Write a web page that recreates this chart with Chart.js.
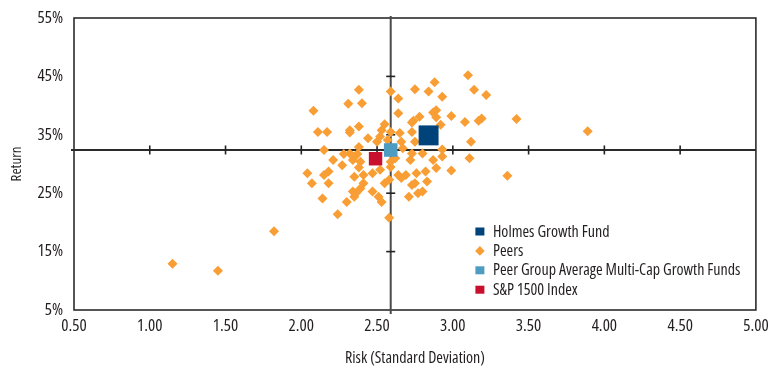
<!DOCTYPE html>
<html>
<head>
<meta charset="utf-8">
<script src="https://cdn.jsdelivr.net/npm/chart.js@4/dist/chart.umd.min.js"></script>
<style>
  html, body { margin: 0; padding: 0; background: #ffffff; }
  #wrap { width: 770px; height: 369px; }
</style>
</head>
<body>
<div id="wrap"><canvas id="chart" width="770" height="369"></canvas></div>
<script>
// Series names, in legend order
const seriesNames = ['Holmes Growth Fund', 'Peers', 'Peer Group Average Multi-Cap Growth Funds', 'S&P 1500 Index'];

// Single-point series: risk (std. dev.) and return (%)
const fundRisk = [2.84];
const fundReturn = [34.9];
const peerAvgRisk = [2.59];
const peerAvgReturn = [32.4];
const indexRisk = [2.49];
const indexReturn = [30.9];

// Peer funds: risk (std. dev.) and return (%)
const peerRisk = [
  2.08, 2.31, 2.40, 2.38, 2.59, 2.64, 2.75, 2.84, 2.88, 2.93, 3.10, 3.14, 3.22,
  2.64, 2.78, 2.73, 2.74, 2.87, 2.89, 2.89, 2.92, 2.99, 3.08, 3.19, 3.17, 3.42,
  2.11, 2.17, 2.32, 2.32, 2.38, 2.55, 2.53, 2.59, 2.65, 2.73, 2.75, 2.44, 2.52,
  3.12, 2.50, 2.57, 2.66,
  2.15, 2.28, 2.38, 2.37, 2.21, 2.27, 2.34, 2.38, 2.67, 2.73, 2.80, 2.72, 2.87,
  2.93, 2.93, 3.11, 2.99, 3.36, 2.04, 2.15, 2.18, 2.35, 2.32, 2.59, 2.59, 2.35,
  2.41, 2.47, 2.52, 2.64, 2.66, 2.69, 2.76, 2.82, 2.39, 2.89, 2.62,
  2.18, 2.55, 2.58, 2.73, 2.75, 2.83, 2.34, 2.39, 2.47, 2.51, 2.53, 2.71, 2.77,
  2.30, 2.35, 2.14, 2.07, 2.24, 2.58, 1.82, 1.15, 1.45, 2.41, 2.80, 2.36, 3.89
];
const peerReturn = [
  39.1, 40.3, 40.4, 42.7, 42.4, 41.2, 42.8, 42.4, 44.0, 41.5, 45.2, 42.7, 41.8,
  38.7, 38.1, 37.1, 37.4, 38.8, 39.2, 38.0, 36.7, 38.2, 37.2, 37.8, 37.4, 37.7,
  35.5, 35.5, 35.8, 35.4, 36.4, 36.8, 35.8, 35.5, 35.3, 35.5, 33.8, 34.4, 34.7,
  33.8, 33.8, 34.1, 33.8,
  32.4, 31.7, 32.9, 31.7, 30.7, 29.8, 30.7, 29.4, 32.7, 31.8, 31.8, 30.7, 30.7,
  32.5, 31.3, 31.0, 28.9, 28.0, 28.4, 28.1, 28.7, 31.3, 31.8, 30.4, 29.5, 27.8,
  28.1, 28.4, 29.0, 28.1, 27.6, 28.1, 28.4, 28.7, 30.4, 29.3, 31.0,
  26.7, 26.7, 27.3, 26.4, 26.7, 27.0, 25.3, 25.8, 25.3, 24.4, 23.5, 24.4, 25.0,
  23.5, 24.4, 24.1, 26.7, 21.4, 20.8, 18.5, 12.9, 11.7, 26.7, 25.3, 25.0, 35.6
];

// Axis ticks
const riskTicks = [0.5, 1.0, 1.5, 2.0, 2.5, 3.0, 3.5, 4.0, 4.5, 5.0];
const returnTicks = [5, 15, 25, 35, 45, 55];

// Condensed face of Open Sans (weight and font-stretch go in front of the size)
const FAMILY = "'Open Sans', 'Roboto Condensed', sans-serif";
const FACE = '500 condensed';
const INK = '#231f20';

const toPoints = (xs, ys) => xs.map((x, i) => ({ x: x, y: ys[i] }));

// Frame around the plot plus the crosshair through the peer-group average
const framePlugin = {
  id: 'frameAndCrosshair',
  beforeDatasetsDraw(chart) {
    const { ctx, chartArea: a, scales: { x, y } } = chart;
    const cx = x.getPixelForValue(peerAvgRisk[0]);
    const cy = y.getPixelForValue(peerAvgReturn[0]);
    ctx.save();
    // outer frame
    ctx.strokeStyle = '#1e1e1e';
    ctx.lineWidth = 1.5;
    ctx.strokeRect(a.left, a.top, a.right - a.left, a.bottom - a.top);
    // crosshair lines
    ctx.lineWidth = 2;
    ctx.strokeStyle = '#2a2a2a';
    ctx.beginPath();
    ctx.moveTo(a.left - 3, cy);
    ctx.lineTo(a.right, cy);
    ctx.stroke();
    ctx.strokeStyle = '#4a4a4a';
    ctx.beginPath();
    ctx.moveTo(cx, a.top - 2);
    ctx.lineTo(cx, a.bottom + 4);
    ctx.stroke();
    // tick marks along the crosshair
    ctx.lineWidth = 1.6;
    ctx.strokeStyle = '#222222';
    riskTicks.slice(1, -1).forEach(v => {
      const px = x.getPixelForValue(v);
      ctx.beginPath();
      ctx.moveTo(px, cy - 4.5);
      ctx.lineTo(px, cy + 4.5);
      ctx.stroke();
    });
    returnTicks.slice(1, -1).forEach(v => {
      const py = y.getPixelForValue(v);
      ctx.beginPath();
      ctx.moveTo(cx - 4.5, py);
      ctx.lineTo(cx + 4.5, py);
      ctx.stroke();
    });
    ctx.restore();
  }
};

// Legend in the lower right of the plot
const legendPlugin = {
  id: 'insetLegend',
  afterDraw(chart) {
    const { ctx, chartArea: a } = chart;
    const mx = a.right - 276;
    const y0 = a.bottom - 78.5;
    const step = 19.4;
    ctx.save();
    ctx.font = FACE + ' 16px ' + FAMILY;
    ctx.textBaseline = 'middle';
    ctx.textAlign = 'left';
    chart.data.datasets.forEach((ds, i) => {
      const my = y0 + i * step;
      ctx.fillStyle = ds.backgroundColor;
      if (ds.pointStyle === 'rectRot') {
        ctx.beginPath();
        ctx.moveTo(mx, my - 4.8);
        ctx.lineTo(mx + 4.8, my);
        ctx.lineTo(mx, my + 4.8);
        ctx.lineTo(mx - 4.8, my);
        ctx.closePath();
        ctx.fill();
      } else {
        ctx.fillRect(mx - 4.5, my - 4, 9, 8);
      }
      ctx.fillStyle = INK;
      ctx.fillText(ds.label, mx + 13, my + 0.5);
    });
    ctx.restore();
  }
};

new Chart(document.getElementById('chart'), {
  type: 'scatter',
  data: {
    datasets: [
      {
        label: seriesNames[0],
        data: toPoints(fundRisk, fundReturn),
        pointStyle: 'rect', pointRadius: 14.1, borderWidth: 0,
        backgroundColor: '#00427a', order: 0
      },
      {
        label: seriesNames[1],
        data: toPoints(peerRisk, peerReturn),
        pointStyle: 'rectRot', pointRadius: 5, borderWidth: 0,
        backgroundColor: '#f89e35', order: 2
      },
      {
        label: seriesNames[2],
        data: toPoints(peerAvgRisk, peerAvgReturn),
        pointStyle: 'rect', pointRadius: 9.6, borderWidth: 0,
        backgroundColor: '#4f9cc3', order: 1
      },
      {
        label: seriesNames[3],
        data: toPoints(indexRisk, indexReturn),
        pointStyle: 'rect', pointRadius: 9.5, borderWidth: 0,
        backgroundColor: '#c8102e', order: 1
      }
    ]
  },
  options: {
    responsive: false,
    animation: false,
    devicePixelRatio: 1,
    layout: { padding: { left: 0, top: 18, right: 11, bottom: 0 } },
    plugins: {
      legend: { display: false },
      tooltip: { enabled: false },
      title: { display: false }
    },
    scales: {
      x: {
        type: 'linear', position: 'bottom', min: 0.5, max: 5,
        grid: { display: false, drawTicks: false },
        border: { display: false },
        afterBuildTicks: s => { s.ticks = riskTicks.map(v => ({ value: v })); },
        ticks: {
          callback: v => Number(v).toFixed(2),
          font: { family: FAMILY, weight: FACE, size: 17 }, color: INK,
          padding: 6, maxRotation: 0, autoSkip: false
        },
        title: {
          display: true, text: 'Risk (Standard Deviation)',
          font: { family: FAMILY, weight: FACE, size: 16 }, color: INK,
          padding: { top: 0, bottom: 1 }
        },
        afterFit: s => { s.height = 59; s.paddingLeft = 0; s.paddingRight = 0; }
      },
      y: {
        type: 'linear', position: 'left', min: 5, max: 55,
        grid: { display: false, drawTicks: false },
        border: { display: false },
        afterBuildTicks: s => { s.ticks = returnTicks.map(v => ({ value: v })); },
        ticks: {
          callback: v => v + '%',
          font: { family: FAMILY, weight: FACE, size: 17 }, color: INK,
          padding: 11, autoSkip: false
        },
        title: {
          display: true, text: 'Return',
          font: { family: FAMILY, weight: FACE, size: 15 }, color: INK,
          padding: { top: 8, bottom: 0 }
        },
        afterFit: s => { s.width = 74; s.paddingTop = 0; s.paddingBottom = 0; }
      }
    }
  },
  plugins: [framePlugin, legendPlugin]
});
</script>
</body>
</html>
